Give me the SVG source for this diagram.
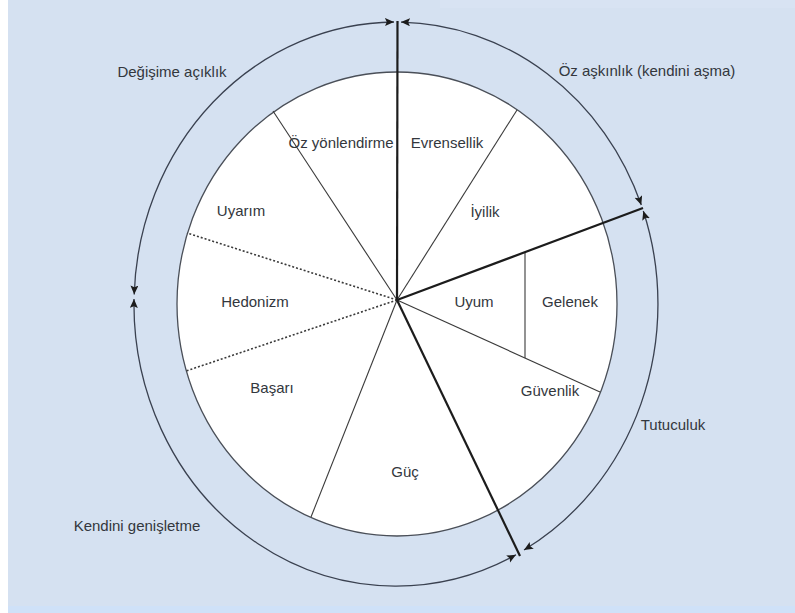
<svg xmlns="http://www.w3.org/2000/svg" width="795" height="613" viewBox="0 0 795 613">
<style>
.lbl{font-family:"Liberation Sans",Arial,sans-serif;font-size:15px;fill:#33373d;text-anchor:middle;dominant-baseline:central}
.thin{stroke:#3a3a3a;stroke-width:1.1;fill:none}
.thick{stroke:#1c1c1c;stroke-width:2.2;fill:none}
.dot{stroke:#3a3a3a;stroke-width:1.6;stroke-dasharray:2 2;fill:none}
.arc{stroke:#3a4150;stroke-width:1.3;fill:none;marker-start:url(#ah);marker-end:url(#ah)}
</style>
<defs>
<marker id="ah" markerUnits="userSpaceOnUse" markerWidth="12" markerHeight="12" refX="9" refY="4" orient="auto-start-reverse" viewBox="0 0 12 12">
<path d="M0,0 L9,4 L0,8 L1.8,4 z" fill="#1c1c1c"/>
</marker>
</defs>
<g id="background">
<rect x="0" y="0" width="795" height="613" fill="#ffffff"/>
<rect x="8" y="0" width="787" height="607" fill="#d5e1f1"/>
<rect x="440" y="0" width="355" height="8" fill="#d8e3f3"/>
<rect x="8" y="606" width="787" height="7" fill="#cfe1f8"/>
</g>
<g id="wheel">
<ellipse cx="397" cy="304" rx="220" ry="232" fill="#ffffff" stroke="#4a4f58" stroke-width="1.3"/>
</g>
<g id="dividers">
<line class="thin" x1="397" y1="300" x2="273" y2="111"/>
<line class="thin" x1="397" y1="300" x2="517" y2="110"/>
<line class="thin" x1="397" y1="300" x2="600" y2="392"/>
<line class="thin" x1="397" y1="300" x2="311" y2="517"/>
<line class="thin" x1="525" y1="252" x2="525" y2="358"/>
<line class="dot" x1="397" y1="300" x2="187" y2="233"/>
<line class="dot" x1="397" y1="300" x2="186" y2="371"/>
</g>
<g id="connectors">
<line class="thick" x1="397" y1="300" x2="397.5" y2="21"/>
<line class="thick" x1="397" y1="300" x2="643" y2="208"/>
<line class="thick" x1="397" y1="300" x2="520" y2="556"/>
<path class="arc" d="M134.2,294.5 A262,282 0 0 1 394,22"/>
<path class="arc" d="M401,22.1 A262,282 0 0 1 641.3,205"/>
<path class="arc" d="M643.3,211 A262,282 0 0 1 524,550"/>
<path class="arc" d="M516,554.7 A262,282 0 0 1 134,299"/>
</g>
<g id="oz-yonlendirme"><text class="lbl" x="341" y="142">Öz yönlendirme</text></g>
<g id="evrensellik"><text class="lbl" x="447" y="142">Evrensellik</text></g>
<g id="uyarim"><text class="lbl" x="241" y="210">Uyarım</text></g>
<g id="iyilik"><text class="lbl" x="485" y="211">İyilik</text></g>
<g id="hedonizm"><text class="lbl" x="255" y="301">Hedonizm</text></g>
<g id="uyum"><text class="lbl" x="474" y="301">Uyum</text></g>
<g id="gelenek"><text class="lbl" x="570" y="301">Gelenek</text></g>
<g id="basari"><text class="lbl" x="272" y="387">Başarı</text></g>
<g id="guvenlik"><text class="lbl" x="550" y="390">Güvenlik</text></g>
<g id="guc"><text class="lbl" x="405" y="471">Güç</text></g>
<g id="degisime-aciklik"><text class="lbl" x="172" y="71">Değişime açıklık</text></g>
<g id="oz-askinlik"><text class="lbl" x="647" y="70">Öz aşkınlık (kendini aşma)</text></g>
<g id="tutuculuk"><text class="lbl" x="673" y="424">Tutuculuk</text></g>
<g id="kendini-genisletme"><text class="lbl" x="137" y="525">Kendini genişletme</text></g>
</svg>
